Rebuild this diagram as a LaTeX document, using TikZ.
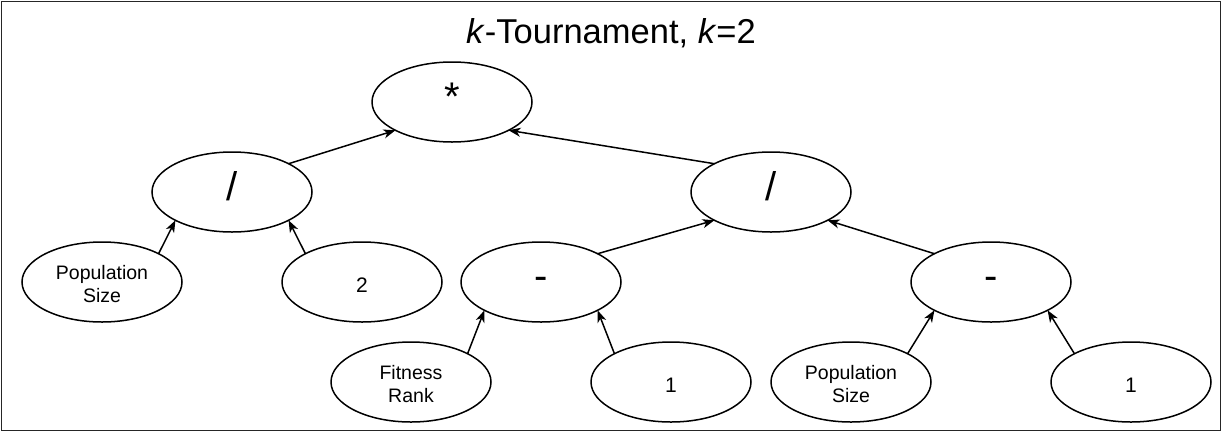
\documentclass[tikz,border=0pt]{standalone}
\usepackage{fontspec}
\setmainfont{Liberation Sans}
\usepackage{graphicx}
\usetikzlibrary{arrows.meta,shapes.geometric,calc}
\newcommand\oneln[2]{\raisebox{#1}[0pt][0pt]{#2}}
\newcommand\twoln[2]{\raisebox{-20pt}[0pt][0pt]{\vbox{\baselineskip=23pt\lineskiplimit=-100pt\halign{\hfil##\hfil\cr#1\cr#2\cr}}}}
\tikzset{
  ell/.style={draw, ellipse, line width=1.5pt, minimum width=160pt, minimum height=80pt, inner sep=0pt, outer sep=0pt},
  opfont/.style={font=\fontsize{40}{48}\selectfont},
  lblfont/.style={font=\fontsize{19.5}{23}\selectfont},
  numfont/.style={font=\fontsize{21}{25}\selectfont},
  edge/.style={line width=1.5pt, -{Stealth[length=12pt,width=9pt,inset=3.5pt]}},
}
\begin{document}
\begin{tikzpicture}[x=1pt,y=-1pt]
\useasboundingbox (0,0) rectangle (1222,432);
\draw[line width=1.5pt, black!85] (1.5,1.5) rectangle (1220.5,430.5);
\node[font=\fontsize{34.5}{41}\selectfont, anchor=base] (title) at (611,43) {\textit{k}-Tournament, \textit{k}=2};
% level 1
\node[ell, opfont] (star) at (452,102) {\oneln{-8pt}{*}};
% level 2
\node[ell, opfont] (divL) at (232,192) {\oneln{-8pt}{/}};
\node[ell, opfont] (divR) at (771,192) {\oneln{-8pt}{/}};
% level 3
\node[ell, lblfont] (popL) at (102,282) {\twoln{Population}{Size}};
\node[ell, numfont] (two) at (362,282) {\oneln{-10pt}{2}};
\node[ell, opfont] (minM) at (541,282) {\oneln{-7pt}{-}};
\node[ell, opfont] (minR) at (991,282) {\oneln{-7pt}{-}};
% level 4
\node[ell, lblfont] (fit) at (411,382) {\twoln{Fitness}{Rank}};
\node[ell, numfont] (oneM) at (671,382) {\oneln{-10pt}{1}};
\node[ell, lblfont] (popR) at (851,382) {\twoln{Population}{Size}};
\node[ell, numfont] (oneR) at (1131,382) {\oneln{-10pt}{1}};
% edges
\draw[edge] (popL.north east) -- (divL.south west);
\draw[edge] (two.north west) -- (divL.south east);
\draw[edge] (divL.north east) -- (star.south west);
\draw[edge] (divR.north west) -- (star.south east);
\draw[edge] (minM.north east) -- (divR.south west);
\draw[edge] (minR.north west) -- (divR.south east);
\draw[edge] (fit.north east) -- (minM.south west);
\draw[edge] (oneM.north west) -- (minM.south east);
\draw[edge] (popR.north east) -- (minR.south west);
\draw[edge] (oneR.north west) -- (minR.south east);
\end{tikzpicture}
\end{document}
